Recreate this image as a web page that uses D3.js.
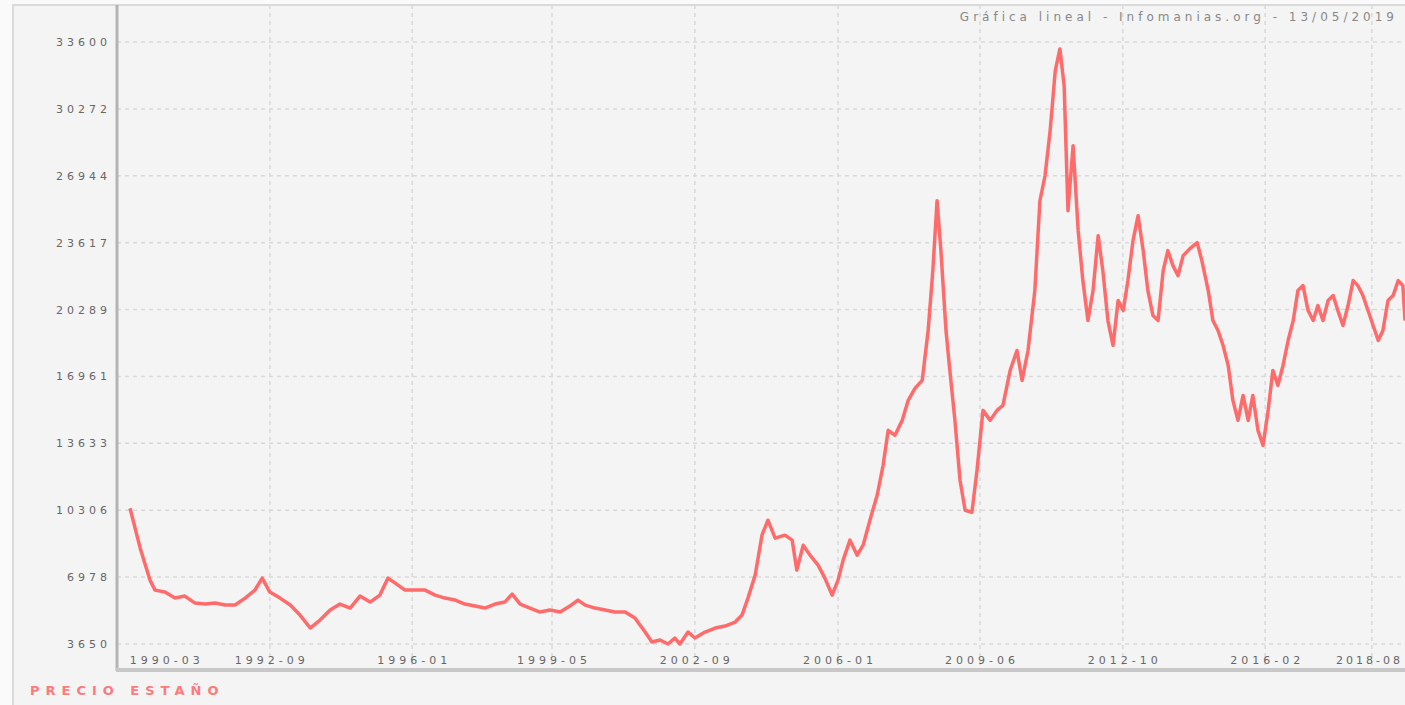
<!DOCTYPE html>
<html>
<head>
<meta charset="utf-8">
<script src="https://cdnjs.cloudflare.com/ajax/libs/d3/7.8.5/d3.min.js"></script>
<style>
  body { margin: 0; background: #fafafa; }
  .grid line { stroke: #d9d9d9; stroke-width: 1.5; stroke-dasharray: 4 4; }
  .lbl { font-family: "DejaVu Sans", sans-serif; font-size: 11px; fill: #666; letter-spacing: 4px; }
</style>
</head>
<body>
<div id="chart"></div>
<script>
// tin price (USD/t)
var years = [
  1989.42, 1989.66, 1989.89, 1990.01, 1990.24, 1990.48, 1990.71, 1990.95, 1991.19, 1991.42,
  1991.66, 1991.89, 1992.13, 1992.36, 1992.53, 1992.71, 1992.95, 1993.19, 1993.42, 1993.66,
  1993.89, 1994.13, 1994.36, 1994.60, 1994.83, 1995.07, 1995.30, 1995.49, 1995.66, 1995.89,
  1996.13, 1996.36, 1996.60, 1996.83, 1997.07, 1997.30, 1997.54, 1997.77, 1998.01, 1998.24,
  1998.41, 1998.60, 1998.83, 1999.07, 1999.30, 1999.54, 1999.77, 1999.96, 2000.13, 2000.36,
  2000.60, 2000.83, 2001.07, 2001.30, 2001.54, 2001.70, 2001.89, 2002.08, 2002.24, 2002.36,
  2002.55, 2002.71, 2002.95, 2003.19, 2003.42, 2003.66, 2003.82, 2003.96, 2004.13, 2004.29,
  2004.43, 2004.60, 2004.83, 2005.00, 2005.11, 2005.26, 2005.42, 2005.61, 2005.77, 2005.94,
  2006.08, 2006.20, 2006.36, 2006.53, 2006.67, 2006.83, 2007.00, 2007.14, 2007.26, 2007.42,
  2007.59, 2007.73, 2007.89, 2008.06, 2008.20, 2008.31, 2008.41, 2008.50, 2008.62, 2008.71,
  2008.83, 2008.95, 2009.07, 2009.23, 2009.35, 2009.49, 2009.66, 2009.82, 2009.96, 2010.13,
  2010.29, 2010.41, 2010.55, 2010.71, 2010.83, 2010.95, 2011.07, 2011.19, 2011.30, 2011.40,
  2011.49, 2011.61, 2011.73, 2011.84, 2011.96, 2012.08, 2012.20, 2012.31, 2012.43, 2012.55,
  2012.67, 2012.79, 2012.90, 2013.02, 2013.14, 2013.26, 2013.37, 2013.49, 2013.61, 2013.73,
  2013.84, 2013.96, 2014.08, 2014.20, 2014.36, 2014.53, 2014.64, 2014.79, 2014.90, 2015.02,
  2015.14, 2015.26, 2015.37, 2015.49, 2015.61, 2015.73, 2015.84, 2015.96, 2016.08, 2016.20,
  2016.31, 2016.43, 2016.55, 2016.67, 2016.79, 2016.90, 2017.02, 2017.14, 2017.26, 2017.37,
  2017.49, 2017.61, 2017.73, 2017.84, 2017.96, 2018.08, 2018.20, 2018.31, 2018.43, 2018.55,
  2018.67, 2018.79, 2018.90, 2019.02, 2019.14, 2019.26, 2019.37, 2019.42
];
var prices = [
  10405, 8418, 6829, 6332, 6233, 5935, 6034, 5686, 5637, 5686,
  5587, 5587, 5935, 6332, 6928, 6233, 5935, 5587, 5090, 4445,
  4842, 5339, 5637, 5438, 6034, 5736, 6084, 6928, 6680, 6332,
  6332, 6332, 6084, 5935, 5835, 5637, 5537, 5438, 5637, 5736,
  6134, 5637, 5438, 5239, 5339, 5239, 5537, 5835, 5587, 5438,
  5339, 5239, 5239, 4941, 4246, 3749, 3849, 3650, 3948, 3650,
  4246, 3948, 4246, 4445, 4544, 4743, 5090, 5935, 7077, 9064,
  9809, 8915, 9064, 8816, 7326, 8567, 8071, 7574, 6928, 6084,
  6829, 7822, 8816, 8071, 8567, 9809, 11051, 12541, 14279, 14031,
  14776, 15769, 16366, 16763, 19246, 22227, 25703, 23220, 19246, 17260,
  14776, 11796, 10306, 10206, 12293, 15273, 14776, 15273, 15521, 17260,
  18253, 16763, 18253, 21233, 25703, 26945, 29180, 32161, 33253, 31416,
  25207, 28435, 24213, 21730, 19743, 21233, 23965, 22227, 19743, 18501,
  20736, 20240, 21730, 23717, 24958, 23220, 21233, 19991, 19743, 22227,
  23220, 22475, 21978, 22972, 23319, 23617, 22723, 21233, 19743, 19246,
  18501, 17508, 15769, 14776, 16018, 14776, 16018, 14279, 13534, 15273,
  17260, 16515, 17508, 18750, 19743, 21233, 21482, 20240, 19743, 20488,
  19743, 20736, 20985, 20240, 19495, 20488, 21730, 21482, 20985, 20240,
  19495, 18750, 19246, 20736, 20985, 21730, 21482, 19743
];
var yTicks = [3650, 6978, 10306, 13633, 16961, 20289, 23617, 26944, 30272, 33600];
var xTickYears = [1990.24, 1992.71, 1996.06, 1999.35, 2002.71, 2006.08, 2009.42, 2012.78, 2016.13, 2018.64];
var xTickLabels = ["1990-03", "1992-09", "1996-01", "1999-05", "2002-09", "2006-01", "2009-06", "2012-10", "2016-02", "2018-08"];
var seriesName = "PRECIO ESTAÑO";
var title = "Gráfica lineal - Infomanias.org - 13/05/2019";

var W = 1405, H = 705;
var plot = { left: 117, top: 5, right: 1405, bottom: 669 };

var svg = d3.select("#chart").append("svg")
  .attr("width", W).attr("height", H);

// outer frame
svg.append("rect").attr("x", 0).attr("y", 0).attr("width", W).attr("height", H).attr("fill", "#fafafa");
svg.append("rect").attr("x", 13).attr("y", 5).attr("width", W).attr("height", H)
  .attr("fill", "#f4f4f4").attr("stroke", "#dadada").attr("stroke-width", 2);

var x = d3.scaleLinear().domain([years[0], years[years.length - 1]]).range([130, 1405]);
var y = d3.scaleLinear().domain([yTicks[0], yTicks[yTicks.length - 1]]).range([644, 42]);

// horizontal grid
svg.append("g").attr("class", "grid")
  .selectAll("line").data(yTicks).enter().append("line")
  .attr("x1", plot.left).attr("x2", plot.right)
  .attr("y1", d => y(d)).attr("y2", d => y(d));

// vertical grid (first label marks the start of the series, no line)
svg.append("g").attr("class", "grid")
  .selectAll("line").data(xTickYears.slice(1)).enter().append("line")
  .attr("x1", d => x(d)).attr("x2", d => x(d))
  .attr("y1", plot.top).attr("y2", plot.bottom);

// y labels
svg.append("g").selectAll("text").data(yTicks).enter().append("text")
  .attr("class", "lbl")
  .attr("x", 111).attr("y", d => y(d) + 4)
  .attr("text-anchor", "end")
  .text(d => d);

// x labels (last one kept inside the window)
svg.append("g").selectAll("text").data(xTickYears).enter().append("text")
  .attr("class", "lbl")
  .attr("x", (d, i) => i === xTickYears.length - 1 ? W - 2 : x(d) + 2)
  .attr("y", 664)
  .attr("text-anchor", (d, i) => i === xTickYears.length - 1 ? "end" : "middle")
  .style("letter-spacing", (d, i) => i === xTickYears.length - 1 ? "3px" : null)
  .text((d, i) => xTickLabels[i]);

// axes lines
svg.append("line").attr("x1", plot.left).attr("x2", plot.left)
  .attr("y1", plot.top).attr("y2", plot.bottom + 2)
  .attr("stroke", "#b4b4b4").attr("stroke-width", 3);
svg.append("line").attr("x1", plot.left - 1).attr("x2", W)
  .attr("y1", plot.bottom + 1).attr("y2", plot.bottom + 1)
  .attr("stroke", "#c8c8c8").attr("stroke-width", 4);

// price line
var line = d3.line()
  .x((d, i) => x(years[i]))
  .y(d => y(d));

svg.append("path")
  .attr("d", line(prices))
  .attr("fill", "none")
  .attr("stroke", "#ff6b6b")
  .attr("stroke-width", 3.5)
  .attr("stroke-linejoin", "round");

// title
svg.append("text")
  .attr("class", "lbl")
  .attr("x", 1398).attr("y", 21)
  .attr("text-anchor", "end")
  .style("font-size", "12px").style("letter-spacing", "4px").style("fill", "#888")
  .text(title);

// legend
svg.append("text")
  .attr("x", 30).attr("y", 695)
  .style("font-family", "DejaVu Sans, sans-serif")
  .style("font-size", "13px").style("font-weight", "bold")
  .style("letter-spacing", "6px").style("fill", "#ff7a7a")
  .text(seriesName);
</script>
</body>
</html>
